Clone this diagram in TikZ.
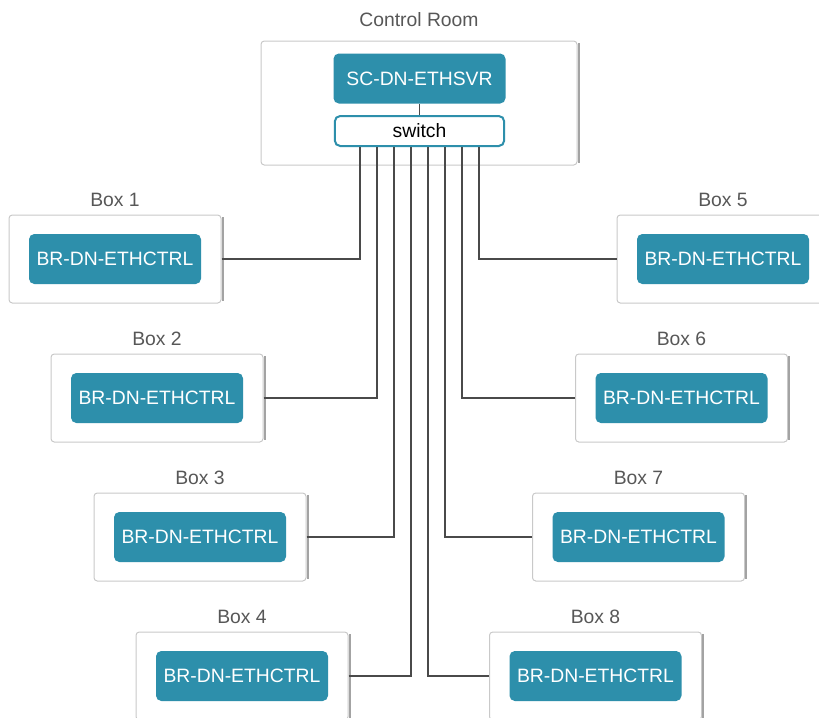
\documentclass[tikz,border=0pt]{standalone}
\usepackage{fontspec}
\setmainfont{Liberation Sans}
\usetikzlibrary{positioning}
\definecolor{tealN}{HTML}{2D8FAB}
\definecolor{wireG}{HTML}{4A4A4A}
\definecolor{frameG}{HTML}{C9C9C9}
\definecolor{shadeG}{HTML}{A3A3A3}
\definecolor{labelG}{HTML}{575757}

\begin{document}
\begin{tikzpicture}[x=0.75pt, y=-0.75pt, font=\fontsize{14.5}{17}\selectfont,
  room/.style={draw=frameG, fill=white, line width=0.75pt, rounded corners=2.5pt, inner sep=0pt},
  unit/.style={fill=tealN, text=white, rounded corners=4pt, inner sep=0pt,
               minimum width=129pt, minimum height=37.5pt},
  swbox/.style={draw=tealN, fill=white, line width=1.5pt, rounded corners=4pt, inner sep=0pt,
               minimum width=127pt, minimum height=22.5pt},
  roomlbl/.style={text=labelG},
  shade/.style={shadeG, line width=1.6pt},
  wire/.style={wireG, line width=1pt}]
  \useasboundingbox (0,0) rectangle (819,718);
  % control room
  \node[room, minimum width=237pt, minimum height=93pt] (cr) at (419,103) {};
  \draw[shade] ([xshift=1pt,yshift=-2pt]cr.north east) -- ([xshift=1pt,yshift=2pt]cr.south east);
  \node[roomlbl, above=6.5pt of cr] (crlbl) {Control Room};
  \node[unit] (srv) at (419.5,78.5) {SC-DN-ETHSVR};
  \node[swbox] (sw) at (419.5,131) {switch};
  \draw[wire] (srv) -- (sw);
  % boxes: index, centre x, centre y, port x, side
  \foreach \n/\cx/\cy/\px/\sd in {%
     1/115/259/360/east, 2/157/398/377/east, 3/200/537/394/east, 4/242/676/411/east,
     5/723/259/479/west, 6/681.5/398/462/west, 7/638.5/537/445/west, 8/595.5/676/428/west}{
     \node[room, minimum width=159pt, minimum height=66pt] (box\n) at (\cx,\cy) {};
     \draw[shade] ([xshift=1pt,yshift=-2pt]box\n.north east) -- ([xshift=1pt,yshift=2pt]box\n.south east);
     \node[roomlbl, above=2.5pt of box\n] (lbl\n) {Box \n};
     \node[unit] (ctrl\n) at (box\n) {BR-DN-ETHCTRL};
     \coordinate (port\n) at (\px,0 |- sw.south);
     \draw[wire] (box\n.\sd) -| (port\n);
  }
\end{tikzpicture}
\end{document}
